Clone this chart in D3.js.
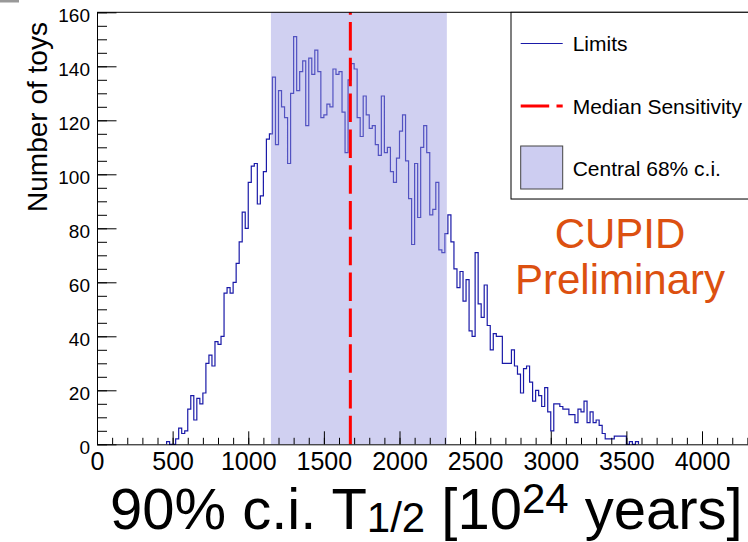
<!DOCTYPE html>
<html>
<head>
<meta charset="utf-8">
<script src="https://cdn.jsdelivr.net/npm/d3@7"></script>
<style>
  body { margin: 0; background: #fff; }
  svg { display: block; font-family: "Liberation Sans", Arial, Helvetica, sans-serif; }
</style>
</head>
<body>
<svg id="chart" width="748" height="542"></svg>
<script>
// Toy-MC limits histogram, 20-unit bins starting at 460
const binStart = 460;
const binWidth = 20;
const counts = [
  1, 0, 0, 2, 6,
  4, 5, 13, 18, 9, 17, 15, 19, 30, 33,
  29, 38, 37, 40, 56, 58, 56, 60, 67, 75,
  86, 80, 97, 103, 104, 89, 92, 101, 113, 115,
  136, 111, 131, 125, 121, 104, 130, 151, 131, 138,
  142, 118, 143, 137, 146, 138, 121, 122, 126, 125,
  139, 137, 138, 123, 108, 135, 141, 139, 121, 114,
  129, 122, 117, 118, 111, 107, 129, 108, 110, 101,
  97, 106, 116, 122, 105, 91, 74, 104, 84, 110,
  118, 108, 85, 87, 97, 72, 71, 78, 85, 75,
  65, 58, 64, 53, 61, 42, 40, 71, 52, 47,
  59, 44, 35, 41, 40, 40, 30, 30, 30, 35,
  29, 26, 19, 28, 29, 23, 16, 20, 18, 14,
  21, 12, 5, 15, 15, 14, 13, 13, 11, 11,
  8, 13, 12, 16, 8, 12, 8, 9, 7, 4,
  2, 2, 2, 3, 3, 3, 3, 0, 1, 0,
  1
];
const ciBand = [1150, 2313];          // central 68% c.i.
const medianSensitivity = 1675;
const xMajorTicks = [0, 500, 1000, 1500, 2000, 2500, 3000, 3500, 4000];
const yMajorTicks = [0, 20, 40, 60, 80, 100, 120, 140, 160];
const legendLabels = ["Limits", "Median Sensitivity", "Central 68% c.i."];
const watermark = ["CUPID", "Preliminary"];

const histColor = "#1a1aa8";
const bandColor = "#cdcdf1";
const font = "Liberation Sans, Arial, Helvetica, sans-serif";

const svg = d3.select("#chart");

const x = d3.scaleLinear().domain([0, 4310]).range([97, 97 + 4310 * 0.15125]);
const y = d3.scaleLinear().domain([0, 160]).range([444.3, 12.3]);

// little grey mark in the top-left corner of the canvas
svg.append("rect").attr("x", 0).attr("y", 0).attr("width", 19).attr("height", 2.5).attr("fill", "#999");

// --- HISTOGRAM ---
const bins = counts.map((c, i) => ({ lo: binStart + i * binWidth, hi: binStart + (i + 1) * binWidth, c }));
const steps = [[bins[0].lo, 0]];
bins.forEach(b => steps.push([b.lo, b.c], [b.hi, b.c]));
steps.push([bins[bins.length - 1].hi, 0]);

const line = d3.line().x(d => x(d[0])).y(d => y(d[1]));
svg.append("path").datum(steps)
    .attr("d", line)
    .attr("fill", "none")
    .attr("stroke", histColor)
    .attr("stroke-width", 1.2);

// band drawn over the histogram, semi transparent
svg.append("rect")
    .attr("x", x(ciBand[0]))
    .attr("y", y(160))
    .attr("width", x(ciBand[1]) - x(ciBand[0]))
    .attr("height", y(0) - y(160))
    .attr("fill", "rgb(150,150,225)")
    .attr("fill-opacity", 0.45);

// median sensitivity, dashes start from the bottom
svg.append("line")
    .attr("x1", x(medianSensitivity)).attr("x2", x(medianSensitivity))
    .attr("y1", y(0)).attr("y2", y(160))
    .attr("stroke", "#ff0000")
    .attr("stroke-width", 3)
    .attr("stroke-dasharray", "28.5,7.3");

// --- AXES ---
const xAxis = svg.append("g")
    .attr("transform", `translate(0,${y(0)})`)
    .call(d3.axisBottom(x).tickValues(xMajorTicks).tickFormat(d3.format("d"))
        .tickSize(-13).tickSizeOuter(0).tickPadding(8));
svg.append("g")
    .attr("transform", `translate(0,${y(0)})`)
    .call(d3.axisBottom(x).tickValues(d3.range(0, 4301, 100)).tickSize(-6.5).tickFormat(() => ""))
    .call(g => g.select(".domain").remove());

const yAxis = svg.append("g")
    .attr("transform", `translate(${x(0)},0)`)
    .call(d3.axisLeft(y).tickValues(yMajorTicks).tickSize(-19.5).tickSizeOuter(0).tickPadding(7));
svg.append("g")
    .attr("transform", `translate(${x(0)},0)`)
    .call(d3.axisLeft(y).tickValues(d3.range(0, 161, 5)).tickSize(-10).tickFormat(() => ""))
    .call(g => g.select(".domain").remove());

svg.selectAll(".tick line").attr("stroke", "#000");
svg.selectAll(".domain").attr("stroke", "#000");
xAxis.attr("font-family", font).attr("font-size", 25);
xAxis.selectAll("text").attr("fill", "#000");
yAxis.attr("font-family", font).attr("font-size", 19);
yAxis.selectAll("text").attr("fill", "#000").attr("dy", "0.46em");

// top frame
svg.append("line")
    .attr("x1", x(0)).attr("x2", x(4310))
    .attr("y1", y(160)).attr("y2", y(160))
    .attr("stroke", "#000");

// axis titles
svg.append("text")
    .attr("transform", "translate(47,117) rotate(-90)")
    .attr("text-anchor", "middle")
    .attr("font-size", 28)
    .text("Number of toys");

const title = svg.append("text")
    .attr("x", 110).attr("y", 529)
    .attr("font-size", 58);
title.append("tspan").text("90% c.i. T");
title.append("tspan").attr("font-size", 42).attr("dy", 3).text("1/2");
title.append("tspan").attr("dy", -3).text(" [10");
title.append("tspan").attr("font-size", 42).attr("dy", -16).text("24");
title.append("tspan").attr("dy", 16).text(" years]");

// --- LEGEND ---
const legend = svg.append("g").attr("font-size", 21);
legend.append("rect")
    .attr("x", 511).attr("y", 12.3)
    .attr("width", 250).attr("height", 186.7)
    .attr("fill", "#fff")
    .attr("stroke", "#000");
legend.append("line").attr("x1", 511).attr("x2", 748).attr("y1", 199.5).attr("y2", 199.5)
    .attr("stroke", "#777");

const rowY = [43.5, 106, 168];
legend.append("line")
    .attr("x1", 520.7).attr("x2", 562.7).attr("y1", rowY[0]).attr("y2", rowY[0])
    .attr("stroke", histColor).attr("stroke-width", 1.2);
legend.append("line")
    .attr("x1", 520.7).attr("x2", 562.7).attr("y1", rowY[1]).attr("y2", rowY[1])
    .attr("stroke", "#ff0000").attr("stroke-width", 3).attr("stroke-dasharray", "28.5,7.3");
legend.append("rect")
    .attr("x", 520.7).attr("y", 146).attr("width", 42).attr("height", 43)
    .attr("fill", bandColor).attr("stroke", "#444");

legend.selectAll("text.lab").data(legendLabels).join("text")
    .attr("class", "lab")
    .attr("x", 572.7)
    .attr("y", (d, i) => rowY[i] + 7.5)
    .text(d => d);

// --- WATERMARK ---
svg.selectAll("text.wm").data(watermark).join("text")
    .attr("class", "wm")
    .attr("x", 620)
    .attr("y", (d, i) => 248 + i * 46)
    .attr("text-anchor", "middle")
    .attr("font-size", 42)
    .attr("fill", "#dc5010")
    .text(d => d);
</script>
</body>
</html>
